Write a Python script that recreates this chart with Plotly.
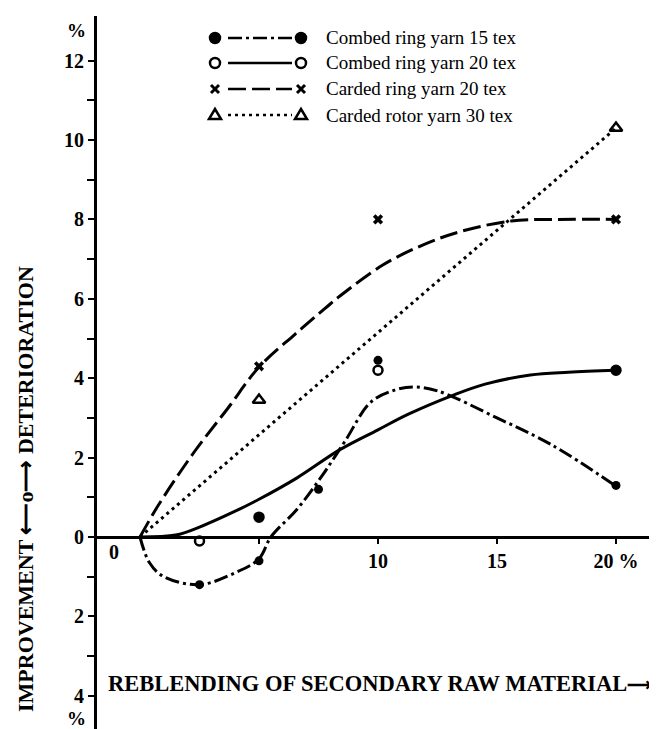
import plotly.graph_objects as go

# ---------------- data ----------------
series_names = ["Combed ring yarn 15 tex", "Combed ring yarn 20 tex",
                "Carded ring yarn 20 tex", "Carded rotor yarn 30 tex"]

# fitted curves
combed15_curve_x = [0, 0.4, 1.0, 2.5, 4.0, 5.0, 5.5, 6.6, 7.6, 8.6, 9.7, 10.7, 11.5, 12.5, 15.0, 17.3, 20.0]
combed15_curve_y = [0, -0.65, -1.0, -1.2, -0.9, -0.55, 0.0, 0.7, 1.5, 2.4, 3.4, 3.7, 3.78, 3.68, 3.0, 2.32, 1.28]

combed20_curve_x = [0, 1.5, 2.5, 4.0, 5.0, 6.6, 8.4, 10.0, 11.3, 13.2, 14.5, 16.4, 18.0, 20.0]
combed20_curve_y = [0, 0.05, 0.25, 0.65, 0.95, 1.49, 2.2, 2.7, 3.1, 3.58, 3.85, 4.08, 4.15, 4.2]

cardring_curve_x = [0, 0.75, 2.3, 3.7, 5.0, 6.5, 7.8, 8.4, 10.2, 11.9, 13.5, 15.6, 17.5, 20.0]
cardring_curve_y = [0, 0.78, 2.16, 3.25, 4.28, 5.1, 5.77, 6.07, 6.85, 7.36, 7.7, 7.96, 8.0, 8.0]

rotor_curve_x = [0, 20.0]
rotor_curve_y = [0, 10.3]

# measured points
combed15_pts_x = [2.5, 5, 7.5, 10, 20]
combed15_pts_y = [-1.2, -0.6, 1.2, 4.45, 1.3]
combed20_pts_x = [2.5, 5, 10, 20]
combed20_pts_y = [-0.1, 0.5, 4.2, 4.2]
cardring_pts_x = [5, 10, 20]
cardring_pts_y = [4.3, 8.0, 8.0]
rotor_pts_x = [5, 20]
rotor_pts_y = [3.45, 10.3]

# axis ticks
y_tickvals = [-4, -2, 0, 2, 4, 6, 8, 10, 12]
y_ticktext = ["4", "2", "0", "2", "4", "6", "8", "10", "12"]
y_minorvals = [-5, -3, -1, 1, 3, 5, 7, 9, 11]
x_tickvals = [5, 10, 15, 20]
x_ticktext = ["", "10", "15", "20 %"]

# ---------------- layout geometry (pixels) ----------------
W, H = 657, 729
L, R, T, B = 89, 2, 8, 0
PW, PH = W - L - R, H - T - B
X0_PX, XSCALE = 132, 23.8      # px of x=0, px per unit
Y0_PX, YSCALE = 529, 39.7      # px of y=0, px per unit
x_range = [(L - X0_PX) / XSCALE, (W - R - X0_PX) / XSCALE]
y_range = [(Y0_PX - (H - B)) / YSCALE, (Y0_PX - T) / YSCALE]


def px(xp):
    return (xp - L) / PW


def py(yp):
    return (H - B - yp) / PH


SERIF = "Liberation Serif"
BLACK = "#000000"

dash_c15 = "14px,4px,3px,4px"
dash_c20 = "solid"
dash_crd = "18px,6px"
dash_rot = "3px,4px"

fig = go.Figure()

curves = [
    (combed15_curve_x, combed15_curve_y, dash_c15, series_names[0]),
    (combed20_curve_x, combed20_curve_y, dash_c20, series_names[1]),
    (cardring_curve_x, cardring_curve_y, dash_crd, series_names[2]),
    (rotor_curve_x, rotor_curve_y, dash_rot, series_names[3]),
]
for cx, cy, dsh, nm in curves:
    fig.add_trace(go.Scatter(x=cx, y=cy, mode="lines", name=nm, showlegend=False,
                             line=dict(color=BLACK, width=3, dash=dsh, shape="spline",
                                       smoothing=1.0),
                             hoverinfo="skip"))

fig.add_trace(go.Scatter(x=combed15_pts_x, y=combed15_pts_y, mode="markers",
                         name=series_names[0], showlegend=False,
                         marker=dict(symbol="circle", size=9, color=BLACK)))
fig.add_trace(go.Scatter(x=combed20_pts_x, y=combed20_pts_y, mode="markers",
                         name=series_names[1], showlegend=False,
                         marker=dict(symbol=["circle-open", "circle", "circle-open", "circle"],
                                     size=9, color=BLACK, line=dict(width=2.5, color=BLACK))))
fig.add_trace(go.Scatter(x=cardring_pts_x, y=cardring_pts_y, mode="markers",
                         name=series_names[2], showlegend=False,
                         marker=dict(symbol="x", size=9, color=BLACK)))
fig.add_trace(go.Scatter(x=rotor_pts_x, y=rotor_pts_y, mode="markers",
                         name=series_names[3], showlegend=False,
                         marker=dict(symbol="triangle-up-open", size=11, color=BLACK,
                                     line=dict(width=2.5, color=BLACK))))

# ---------------- custom legend ----------------
shapes = []
annotations = []
legend_rows_px = [30, 55, 81, 107]
legend_dashes = [dash_c15, dash_c20, dash_crd, dash_rot]
marker_kinds = ["filled", "open", "cross", "tri"]
for ypix, dsh, kind, nm in zip(legend_rows_px, legend_dashes, marker_kinds, series_names):
    yy = py(ypix)
    shapes.append(dict(type="line", xref="paper", yref="paper",
                       x0=px(220), x1=px(284), y0=yy, y1=yy,
                       line=dict(color=BLACK, width=2.5, dash=dsh)))
    for xm in (207, 293):
        xa = px(xm)
        if kind in ("filled", "open"):
            shapes.append(dict(type="circle", xref="paper", yref="paper",
                               xsizemode="pixel", ysizemode="pixel",
                               xanchor=xa, yanchor=yy, x0=-5, x1=5, y0=-5, y1=5,
                               fillcolor=BLACK if kind == "filled" else "white",
                               line=dict(color=BLACK, width=2.5)))
        elif kind == "cross":
            shapes.append(dict(type="path", xref="paper", yref="paper",
                               xsizemode="pixel", ysizemode="pixel",
                               xanchor=xa, yanchor=yy,
                               path="M-4,-4L4,4M-4,4L4,-4",
                               line=dict(color=BLACK, width=3)))
        else:
            shapes.append(dict(type="path", xref="paper", yref="paper",
                               xsizemode="pixel", ysizemode="pixel",
                               xanchor=xa, yanchor=yy,
                               path="M-6,-4L6,-4L0,6Z",
                               line=dict(color=BLACK, width=2.5)))
    annotations.append(dict(xref="paper", yref="paper", x=px(316), y=yy,
                            xanchor="left", yanchor="middle", showarrow=False,
                            text=nm, font=dict(family=SERIF, size=19, color=BLACK)))

# ---------------- axis texts ----------------
annotations.append(dict(xref="paper", yref="paper", x=px(18), y=py(481),
                        xanchor="center", yanchor="middle", showarrow=False,
                        textangle=-90, text="IMPROVEMENT ⟵o⟶ DETERIORATION",
                        font=dict(family=SERIF, size=22, color=BLACK, weight="bold")))
annotations.append(dict(xref="paper", yref="paper", x=px(98), y=py(675),
                        xanchor="left", yanchor="middle", showarrow=False,
                        text="REBLENDING OF SECONDARY RAW MATERIAL<span style='font-size:17px'>⟶</span>",
                        font=dict(family=SERIF, size=22.5, color=BLACK, weight="bold")))
annotations.append(dict(xref="paper", yref="paper", x=px(68), y=py(23),
                        xanchor="center", yanchor="middle", showarrow=False, text="%",
                        font=dict(family=SERIF, size=19, color=BLACK, weight="bold")))
annotations.append(dict(xref="paper", yref="paper", x=px(68), y=py(710),
                        xanchor="center", yanchor="middle", showarrow=False, text="%",
                        font=dict(family=SERIF, size=19, color=BLACK, weight="bold")))
annotations.append(dict(xref="paper", yref="paper", x=px(106), y=py(544),
                        xanchor="center", yanchor="middle", showarrow=False, text="0",
                        font=dict(family=SERIF, size=20, color=BLACK, weight="bold")))
# arrow head at the end of the x axis
annotations.append(dict(xref="paper", yref="y", x=px(656), y=0, ax=-22, ay=0,
                        text="", showarrow=True, arrowhead=2, arrowsize=1.2,
                        arrowwidth=2, arrowcolor=BLACK))

fig.update_layout(
    width=W, height=H,
    margin=dict(l=L, r=R, t=T, b=B, pad=0),
    paper_bgcolor="white", plot_bgcolor="white",
    showlegend=False,
    shapes=shapes, annotations=annotations,
    xaxis=dict(range=x_range, showgrid=False, zeroline=False,
               anchor="free", position=py(Y0_PX),
               showline=True, linecolor=BLACK, linewidth=3,
               ticks="outside", ticklen=5, tickwidth=2, tickcolor=BLACK,
               tickmode="array", tickvals=x_tickvals, ticktext=x_ticktext,
               tickfont=dict(family=SERIF, size=20, color=BLACK, weight="bold")),
    yaxis=dict(range=y_range, showgrid=False, zeroline=False,
               showline=True, linecolor=BLACK, linewidth=3,
               ticks="outside", ticklen=6, tickwidth=2, tickcolor=BLACK,
               tickmode="array", tickvals=y_tickvals, ticktext=y_ticktext,
               minor=dict(tickmode="array", tickvals=y_minorvals, ticks="outside",
                          ticklen=7, tickwidth=2, tickcolor=BLACK),
               tickfont=dict(family=SERIF, size=20, color=BLACK, weight="bold")),
)

fig.write_html("out.html")
